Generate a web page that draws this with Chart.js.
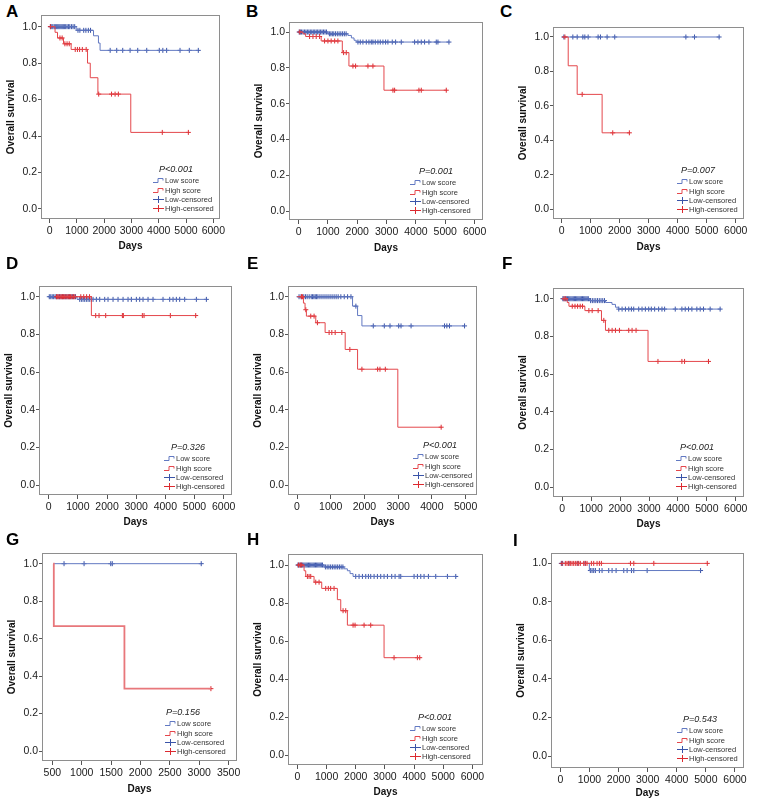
<!DOCTYPE html>
<html>
<head>
<meta charset="utf-8">
<script src="https://cdn.jsdelivr.net/npm/chart.js@4/dist/chart.umd.min.js"></script>
<style>
    body { margin: 0; background: #fff; }
    #fig { position: relative; width: 768px; height: 800px; overflow: hidden; }
    #fig canvas { position: absolute; }
    .tag { position: absolute; font: bold 17px/1 "Liberation Sans", Arial, sans-serif; color: #000; }
</style>
</head>
<body>
<div id="fig"></div>
<script>
// tick values
const xTicks6000 = [0, 1000, 2000, 3000, 4000, 5000, 6000];
const xTicks5000 = [0, 1000, 2000, 3000, 4000, 5000];
const xTicksG = [500, 1000, 1500, 2000, 2500, 3000, 3500];
const yTicks = [0, 0.2, 0.4, 0.6, 0.8, 1.0];
const yTickLabels = ['0.0', '0.2', '0.4', '0.6', '0.8', '1.0'];
const pValues = ['P<0.001', 'P=0.001', 'P=0.007', 'P=0.326', 'P<0.001', 'P<0.001', 'P=0.156', 'P<0.001', 'P=0.543'];

// each curve: step times (T), survival after each step (S), censored times (C)
const aLowT = [0, 975, 1610, 1790, 1850, 5450];
const aLowS = [1, 0.98, 0.95, 0.91, 0.87, 0.87];
const aLowC = [30, 80, 120, 170, 210, 260, 300, 340, 380, 420, 460, 500, 540, 590, 640, 690, 740, 800, 860, 920,
    1040, 1110, 1250, 1330, 1420, 1500, 2220, 2460, 2680, 2950, 3230, 3560, 4020, 4150, 4290, 4780, 5120, 5450];
const aHighT = [0, 200, 290, 510, 790, 1390, 1490, 1770, 2975, 5085];
const aHighS = [1, 0.969, 0.938, 0.906, 0.875, 0.80, 0.72, 0.63, 0.42, 0.42];
const aHighC = [30, 380, 460, 560, 640, 720, 940, 1020, 1100, 1200, 1340, 1800, 2270, 2400, 2520, 4130, 5085];

const bLowT = [0, 1000, 1680, 1800, 1890, 1965, 5125];
const bLowS = [1, 0.99, 0.981, 0.967, 0.954, 0.944, 0.944];
const bLowC = [20, 60, 100, 150, 200, 250, 300, 350, 400, 450, 500, 550, 600, 650, 700, 750, 800, 850, 900, 950,
    1050, 1100, 1150, 1200, 1260, 1320, 1380, 1440, 1500, 1560, 1620,
    2023, 2102, 2193, 2307, 2398, 2477, 2534, 2614, 2705, 2784, 2875, 2966, 3045, 3193, 3307, 3500,
    3955, 4068, 4182, 4295, 4443, 4693, 4750, 5125];
const bHighT = [0, 150, 240, 770, 1490, 1716, 2910, 5034];
const bHighS = [1, 0.99, 0.975, 0.95, 0.885, 0.81, 0.675, 0.675];
const bHighC = [40, 375, 490, 600, 716, 886, 1000, 1110, 1230, 1340, 1534, 1625, 1852, 1943, 2364, 2534,
    3216, 3273, 4102, 4182, 5034];

const cLowT = [20, 5428];
const cLowS = [1, 1];
const cLowC = [80, 389, 538, 733, 802, 916, 1259, 1340, 1569, 1832, 4283, 4580, 5428];
const cHighT = [20, 229, 538, 1397, 2336];
const cHighS = [1, 0.833, 0.667, 0.444, 0.444];
const cHighC = [115, 710, 1763, 2336];

const dLowT = [0, 971, 5406];
const dLowS = [1, 0.986, 0.986];
const dLowC = [20, 70, 120, 170, 220, 270, 320, 370, 420, 470, 520, 570, 620, 670, 720, 770, 820, 870, 920,
    1063, 1120, 1177, 1234, 1291, 1349, 1406, 1463, 1520, 1634, 1749, 1920, 2034, 2206, 2377, 2549, 2720,
    2834, 3006, 3120, 3234, 3406, 3577, 3920, 4149, 4263, 4377, 4491, 4663, 5063, 5406];
const dHighT = [250, 1463, 5040];
const dHighS = [1, 0.90, 0.90];
const dHighC = [270, 310, 350, 390, 430, 470, 510, 550, 590, 630, 670, 710, 750, 800, 850, 900, 1100, 1200, 1300, 1400,
    1611, 1726, 1954, 2526, 2560, 3211, 3269, 4171, 5040];

const eLowT = [0, 1647, 1796, 1925, 4970];
const eLowS = [1, 0.95, 0.9, 0.845, 0.845];
const eLowC = [60, 120, 200, 250, 300, 360, 420, 460, 500, 540, 580, 620, 680, 740, 800, 860, 920, 980, 1040, 1100,
    1160, 1220, 1300, 1400, 1500, 1600, 1746, 2262, 2589, 2758, 3016, 3085, 3383, 4375, 4444, 4524, 4970];
const eHighT = [0, 190, 238, 278, 556, 833, 1429, 1796, 2990, 4276];
const eHighS = [1, 0.966, 0.931, 0.897, 0.862, 0.81, 0.72, 0.615, 0.307, 0.307];
const eHighC = [130, 160, 260, 407, 506, 605, 952, 1032, 1131, 1329, 1567, 1925, 2391, 2460, 2619, 4276];

const fLowT = [0, 940, 1494, 1720, 1840, 1950, 5460];
const fLowS = [1, 0.99, 0.98, 0.97, 0.955, 0.945, 0.945];
const fLowC = [20, 60, 100, 140, 180, 220, 260, 300, 340, 380, 420, 460, 500, 540, 580, 620, 660, 700, 740, 780, 820,
    860, 900, 980, 1040, 1100, 1160, 1220, 1280, 1340, 1400, 1460,
    1954, 2069, 2184, 2299, 2391, 2471, 2644, 2759, 2874, 2989, 3080, 3195, 3333, 3448, 3540,
    3908, 4138, 4253, 4368, 4483, 4655, 4770, 4885, 5115, 5460];
const fHighT = [0, 172, 230, 782, 1356, 1494, 2966, 5057];
const fHighS = [1, 0.98, 0.96, 0.937, 0.885, 0.832, 0.667, 0.667];
const fHighC = [60, 120, 345, 440, 530, 620, 700, 920, 1034, 1241, 1437, 1609, 1724, 1839, 1977, 2299, 2414, 2552,
    3310, 4138, 4230, 5057];

const gLowT = [520, 3034];
const gLowS = [1, 1];
const gLowC = [699, 1040, 1494, 1520, 3034];
const gHighT = [515, 525, 1727, 3199];
const gHighS = [1, 0.667, 0.333, 0.333];
const gHighC = [3199];

const hLowT = [0, 914, 1600, 1714, 1806, 1909, 5429];
const hLowS = [1, 0.99, 0.98, 0.97, 0.955, 0.94, 0.94];
const hLowC = [20, 60, 100, 140, 180, 220, 260, 300, 340, 380, 420, 460, 500, 540, 580, 620, 660, 700, 740, 780, 820, 860,
    960, 1020, 1080, 1140, 1200, 1260, 1320, 1380, 1440, 1500, 1560,
    2000, 2114, 2229, 2343, 2434, 2514, 2629, 2743, 2857, 2971, 3086, 3234, 3349, 3486, 3543,
    4000, 4114, 4229, 4343, 4491, 4743, 5143, 5429];
const hHighT = [0, 229, 286, 571, 834, 1371, 1486, 1714, 2971, 4229];
const hHighS = [1, 0.97, 0.94, 0.91, 0.877, 0.818, 0.76, 0.684, 0.513, 0.513];
const hHighC = [40, 100, 150, 343, 400, 457, 629, 743, 971, 1060, 1140, 1257, 1566, 1657, 1909, 1977, 2286, 2514,
    3314, 4114, 4194];

const iLowT = [0, 998, 4818];
const iLowS = [1, 0.963, 0.963];
const iLowC = [34, 80, 300, 600, 850, 1032, 1090, 1147, 1205, 1342, 1434, 1663, 1778, 1916, 2180, 2295, 2444, 2524,
    2983, 4818];
const iHighT = [57, 5048];
const iHighS = [1, 1];
const iHighC = [57, 172, 230, 287, 344, 402, 459, 516, 574, 631, 688, 803, 860, 918, 1067, 1147, 1262, 1342, 1411,
    2409, 2524, 3212, 5048];

const BLUE_LINE = '#6279c2';
const BLUE_MARK = '#3a54a8';
const RED_LINE = '#e4474c';
const RED_MARK = '#dc2a30';
const FONT = '"Liberation Sans", Arial, sans-serif';

// box = plot frame on the page [left, top, right, bottom]; key = [text x from right, P x from right, last row from bottom]
const panels = [
    { tag: 'A', tagPos: [6, 3], box: [41, 15, 220, 219], x: [-315, 6245], xt: xTicks6000, y: [-0.055, 1.064], days: 27, key: [55, 44, 11],
        low: [aLowT, aLowS, aLowC], high: [aHighT, aHighS, aHighC] },
    { tag: 'B', tagPos: [246, 3], box: [289, 22, 483, 220], x: [-327, 6286], xt: xTicks6000, y: [-0.050, 1.056], days: 28, key: [61, 47, 10],
        low: [bLowT, bLowS, bLowC], high: [bHighT, bHighS, bHighC] },
    { tag: 'C', tagPos: [500, 3], box: [553, 27, 744, 219], x: [-295, 6285], xt: xTicks6000, y: [-0.056, 1.058], days: 28, key: [55, 46, 10],
        low: [cLowT, cLowS, cLowC], high: [cHighT, cHighS, cHighC] },
    { tag: 'D', tagPos: [6, 255], box: [39, 286, 232, 495], x: [-333, 6285], xt: xTicks6000, y: [-0.053, 1.057], days: 27, key: [56, 44, 9],
        low: [dLowT, dLowS, dLowC], high: [dHighT, dHighS, dHighC] },
    { tag: 'E', tagPos: [247, 255], box: [288, 286, 477, 495], x: [-268, 5339], xt: xTicks5000, y: [-0.053, 1.057], days: 27, key: [52, 37, 11],
        low: [eLowT, eLowS, eLowC], high: [eHighT, eHighS, eHighC] },
    { tag: 'F', tagPos: [502, 255], box: [553, 288, 744, 497], x: [-321, 6286], xt: xTicks6000, y: [-0.053, 1.057], days: 27, key: [56, 47, 11],
        low: [fLowT, fLowS, fLowC], high: [fHighT, fHighS, fHighC] },
    { tag: 'G', tagPos: [6, 531], box: [42, 553, 237, 761], x: [324, 3643], xt: xTicksG, y: [-0.053, 1.057], days: 28, key: [60, 54, 10],
        low: [gLowT, gLowS, gLowC], high: [gHighT, gHighS, gHighC], highWidth: 1.8, highColor: '#e8777b' },
    { tag: 'H', tagPos: [247, 531], box: [288, 554, 483, 765], x: [-322, 6363], xt: xTicks6000, y: [-0.051, 1.058], days: 27, key: [61, 48, 9],
        low: [hLowT, hLowS, hLowC], high: [hHighT, hHighS, hHighC] },
    { tag: 'I', tagPos: [513, 532], box: [551, 553, 744, 768], x: [-320, 6310], xt: xTicks6000, y: [-0.062, 1.054], days: 25, key: [55, 44, 10],
        low: [iLowT, iLowS, iLowC], high: [iHighT, iHighS, iHighC] }
];

function stepPoints(curve) {
    return curve[0].map((t, i) => ({ x: t, y: curve[1][i] }));
}

// a censored case sits on the curve level in force at its time
function censorPoints(curve) {
    const [T, S, C] = curve;
    return C.map(t => {
        let k = 0;
        while (k + 1 < T.length && T[k + 1] <= t) k++;
        return { x: t, y: S[k] };
    });
}

function frameAndKey(p, pval) {
    return {
        id: 'frameAndKey',
        afterDraw(chart) {
            const ctx = chart.ctx;
            const a = chart.chartArea;
            ctx.save();
            ctx.strokeStyle = '#8e8e8e';
            ctx.lineWidth = 1;
            ctx.strokeRect(Math.round(a.left) + 0.5, Math.round(a.top) + 0.5,
                Math.round(a.right - a.left) - 1, Math.round(a.bottom - a.top) - 1);

            const tx = a.right - p.key[0];
            const rowY = i => a.bottom - p.key[2] - (3 - i) * 9.2;
            ctx.fillStyle = '#222';
            ctx.textAlign = 'center';
            ctx.textBaseline = 'middle';
            ctx.font = 'italic 9px ' + FONT;
            ctx.fillText(pval, a.right - p.key[1], rowY(0) - 11);

            const rows = [
                ['Low score', BLUE_LINE, 'step'],
                ['High score', RED_LINE, 'step'],
                ['Low-censored', BLUE_MARK, 'cross'],
                ['High-censored', RED_MARK, 'cross']
            ];
            ctx.font = '7.5px ' + FONT;
            ctx.textAlign = 'left';
            rows.forEach((r, i) => {
                const y = Math.round(rowY(i)) + 0.5;
                ctx.strokeStyle = r[1];
                ctx.beginPath();
                if (r[2] === 'step') {
                    ctx.moveTo(tx - 12, y + 2);
                    ctx.lineTo(tx - 7, y + 2);
                    ctx.lineTo(tx - 7, y - 2);
                    ctx.lineTo(tx - 2, y - 2);
                    ctx.lineTo(tx - 2, y);
                } else {
                    ctx.moveTo(tx - 12, y);
                    ctx.lineTo(tx - 1, y);
                    ctx.moveTo(tx - 6.5, y - 3.5);
                    ctx.lineTo(tx - 6.5, y + 3.5);
                }
                ctx.stroke();
                ctx.fillStyle = '#333';
                ctx.fillText(r[0], tx, y);
            });
            ctx.restore();
        }
    };
}

const fig = document.getElementById('fig');

panels.forEach((p, k) => {
    const tag = document.createElement('div');
    tag.className = 'tag';
    tag.textContent = p.tag;
    tag.style.left = p.tagPos[0] + 'px';
    tag.style.top = p.tagPos[1] + 'px';
    fig.appendChild(tag);

    const [l, t, r, b] = p.box;
    const w = r - l + 56;
    const h = b - t + 50;
    const cv = document.createElement('canvas');
    cv.width = w;
    cv.height = h;
    cv.style.left = (l - 40) + 'px';
    cv.style.top = (t - 10) + 'px';
    cv.style.width = w + 'px';
    cv.style.height = h + 'px';
    fig.appendChild(cv);

    const xh = p.days + 6;
    new Chart(cv, {
        type: 'line',
        data: {
            datasets: [{
                data: stepPoints(p.high),
                borderColor: p.highColor || RED_LINE,
                borderWidth: p.highWidth || 1,
                stepped: true,
                pointRadius: 0,
                fill: false
            }, {
                data: censorPoints(p.high),
                showLine: false,
                pointStyle: 'cross',
                pointRadius: 2.5,
                pointHoverRadius: 2.5,
                borderColor: RED_MARK,
                pointBorderColor: RED_MARK,
                pointBorderWidth: 1
            }, {
                data: stepPoints(p.low),
                borderColor: BLUE_LINE,
                borderWidth: 1,
                stepped: true,
                pointRadius: 0,
                fill: false
            }, {
                data: censorPoints(p.low),
                showLine: false,
                pointStyle: 'cross',
                pointRadius: 2.5,
                pointHoverRadius: 2.5,
                borderColor: BLUE_MARK,
                pointBorderColor: BLUE_MARK,
                pointBorderWidth: 1
            }]
        },
        options: {
            responsive: false,
            animation: false,
            devicePixelRatio: 1,
            events: [],
            layout: { padding: { left: 4, top: 10, right: 16, bottom: 40 - xh } },
            plugins: {
                legend: { display: false },
                tooltip: { enabled: false }
            },
            scales: {
                x: {
                    type: 'linear',
                    min: p.x[0],
                    max: p.x[1],
                    afterFit: s => { s.height = xh; },
                    afterBuildTicks: s => { s.ticks = p.xt.map(v => ({ value: v })); },
                    border: { display: false },
                    grid: { drawOnChartArea: false, drawTicks: true, tickLength: 4, color: '#555' },
                    ticks: {
                        autoSkip: false,
                        maxRotation: 0,
                        padding: 2,
                        color: '#1a1a1a',
                        font: { family: FONT, size: 10.5 },
                        callback: v => String(v)
                    },
                    title: {
                        display: true,
                        text: 'Days',
                        color: '#111',
                        padding: 0,
                        font: { family: FONT, size: 10, weight: 'bold' }
                    }
                },
                y: {
                    type: 'linear',
                    min: p.y[0],
                    max: p.y[1],
                    afterFit: s => { s.width = 36; },
                    afterBuildTicks: s => { s.ticks = yTicks.map(v => ({ value: v })); },
                    border: { display: false },
                    grid: { drawOnChartArea: false, drawTicks: true, tickLength: 3, color: '#555' },
                    ticks: {
                        autoSkip: false,
                        padding: 1,
                        color: '#1a1a1a',
                        font: { family: FONT, size: 10.5 },
                        callback: (v, i) => yTickLabels[i]
                    },
                    title: {
                        display: true,
                        text: 'Overall survival',
                        color: '#111',
                        padding: 0,
                        font: { family: FONT, size: 10, weight: 'bold' }
                    }
                }
            }
        },
        plugins: [frameAndKey(p, pValues[k])]
    });
});
</script>
</body>
</html>
